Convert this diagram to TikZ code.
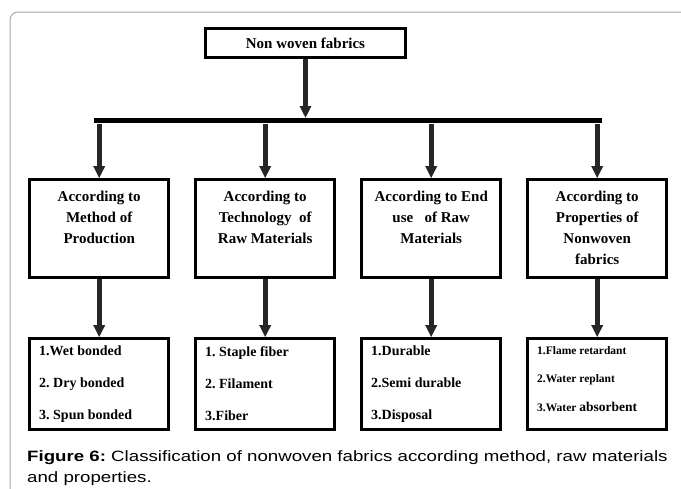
\documentclass[tikz,border=0pt]{standalone}
\usepackage{fontspec}
\setmainfont{Liberation Serif}
\newfontfamily\capfont[FakeStretch=1.245]{Liberation Sans}
\usetikzlibrary{matrix,positioning,arrows.meta}
\frenchspacing

\newcommand{\headtext}[1]{\parbox[c][76pt][t]{132pt}{\centering\fontsize{15}{21}\selectfont\bfseries #1}}
\newcommand{\listtext}[1]{\parbox[c][76pt][t]{120pt}{\raggedright\fontsize{14}{32}\selectfont\bfseries #1}}
\newcommand{\smalllist}[1]{\parbox[c][76pt][t]{120pt}{\raggedright\fontsize{11.5}{28.5}\selectfont\bfseries #1}}

\begin{document}
\begin{tikzpicture}[x=1pt,y=-1pt,
  boxed/.style={draw,line width=3pt,inner sep=1pt,minimum width=139pt},
  arr/.style={line width=5pt,black!85,-{Triangle[length=12pt,width=11pt]}}]
\useasboundingbox (0,0) rectangle (681,488);
\draw[black!35,line width=1pt,rounded corners=8pt] (700,12) -- (10,12) -- (10,500);

\node[boxed,minimum width=200pt,minimum height=29pt,font=\fontsize{15}{18}\selectfont\bfseries] (top) at (305.5,43) {Non woven fabrics};

\matrix[matrix of nodes,anchor=north west,inner sep=0pt,column sep=24pt,row sep=58pt,
  nodes={boxed},
  row 1/.style={nodes={minimum height=98pt}},
  row 2/.style={nodes={minimum height=91pt}}] (a) at (28,178)
{\headtext{According to\\Method of\\Production} &
 \headtext{According to\\Technology~ of\\Raw Materials} &
 \headtext{According to End\\use~~ of Raw\\Materials} &
 \headtext{According to\\Properties of\\Nonwoven\\fabrics} \\
 \listtext{1.Wet bonded\\2. Dry bonded\\3. Spun bonded} &
 \listtext{1. Staple fiber\\2. Filament\\3.Fiber} &
 \listtext{1.Durable\\2.Semi durable\\3.Disposal} &
 \smalllist{1.Flame retardant\\2.Water replant\\3.Water {\fontsize{13.5}{28.5}\selectfont absorbent}} \\
};

\coordinate (barl) at (94,120.5);
\coordinate (barr) at (602,120.5);
\draw[line width=5pt] (barl) -- (barr);

\draw[arr,shorten >=2.5pt] (top.south) -- (top.south |- barl);
\foreach \c in {1,...,4} {
  \draw[arr,shorten <=3pt] (a-1-\c.north |- barl) -- (a-1-\c.north);
  \draw[arr] (a-1-\c.south) -- (a-2-\c.north);
}

\node[anchor=north west,inner sep=0pt,align=left,font=\capfont\fontsize{15}{21}\selectfont] (cap) at (27,450)
  {\textbf{Figure 6:} Classification of nonwoven fabrics according method, raw materials\\and properties.};
\end{tikzpicture}
\end{document}
